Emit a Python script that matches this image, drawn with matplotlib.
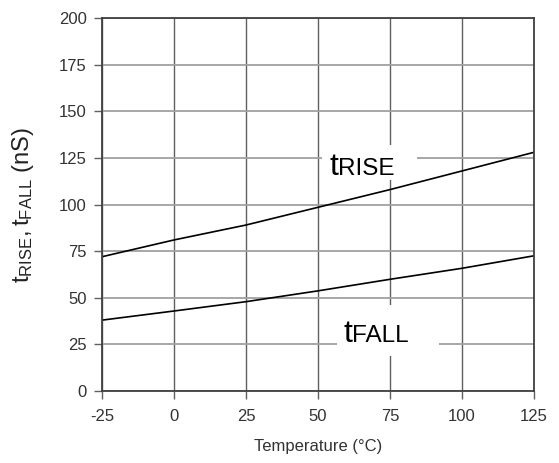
import matplotlib
matplotlib.use("Agg")
import matplotlib.pyplot as plt
from matplotlib.patches import Rectangle

plt.rcParams['font.family'] = ['Liberation Sans', 'DejaVu Sans']
plt.rcParams['mathtext.fontset'] = 'custom'
plt.rcParams['mathtext.rm'] = 'Liberation Sans'

temperature = [-25, 0, 25, 50, 75, 100, 125]
t_rise = [72, 81, 89, 98.5, 108, 118, 128]
t_fall = [38, 42.9, 47.9, 53.7, 59.9, 65.8, 72.5]
x_ticks = [-25, 0, 25, 50, 75, 100, 125]
y_ticks = [0, 25, 50, 75, 100, 125, 150, 175, 200]

fig = plt.figure(figsize=(5.59, 4.63), dpi=100)
ax = fig.add_axes([0.1825, 0.1555, 0.7728, 0.8056])

ax.set_xlim(-25, 125)
ax.set_ylim(0, 200)
ax.set_xticks(x_ticks)
ax.set_yticks(y_ticks)
ax.set_xticklabels([str(v) for v in x_ticks])
ax.set_yticklabels([str(v) for v in y_ticks])

for v in x_ticks:
    ax.axvline(v, color='#606060', lw=1.0, zorder=1)
for v in y_ticks:
    ax.axhline(v, color='#a0a0a0', lw=1.3, zorder=1)

ax.plot(temperature, t_rise, color='black', lw=1.2, zorder=3)
ax.plot(temperature, t_fall, color='black', lw=1.2, zorder=3)

# white boxes behind curve labels
ax.add_patch(Rectangle((51.4, 113.1), 33.0, 18.8, facecolor='white', edgecolor='none', zorder=2))
ax.add_patch(Rectangle((56.6, 18.8), 35.4, 27.3, facecolor='white', edgecolor='none', zorder=2))

ax.text(56.9, 115.8, 't', fontsize=23, ha='right', va='baseline', color='black', zorder=4)
ax.text(56.9, 115.8, 'RISE', fontsize=17.5, ha='left', va='baseline', color='black', zorder=4)
ax.text(61.8, 26.3, 't', fontsize=23, ha='right', va='baseline', color='black', zorder=4)
ax.text(61.8, 26.3, 'FALL', fontsize=17.5, ha='left', va='baseline', color='black', zorder=4)

for s in ax.spines.values():
    s.set_color('#404040')
    s.set_linewidth(1.3)
    s.set_zorder(5)

ax.tick_params(axis='both', direction='out', length=6, width=1.0, color='#606060',
               labelsize=12, labelcolor='#333333')
ax.tick_params(axis='y', pad=5)
ax.tick_params(axis='x', pad=7)

ax.set_xlabel('Temperature (°C)', fontsize=12, color='#333333', labelpad=11)
ax.set_ylabel(r'$\mathregular{t_{RISE}, t_{FALL}}$ (nS)', fontsize=17, color='#222222')
ax.yaxis.set_label_coords(-0.152, 0.5)

fig.savefig('out.png', dpi=100)
